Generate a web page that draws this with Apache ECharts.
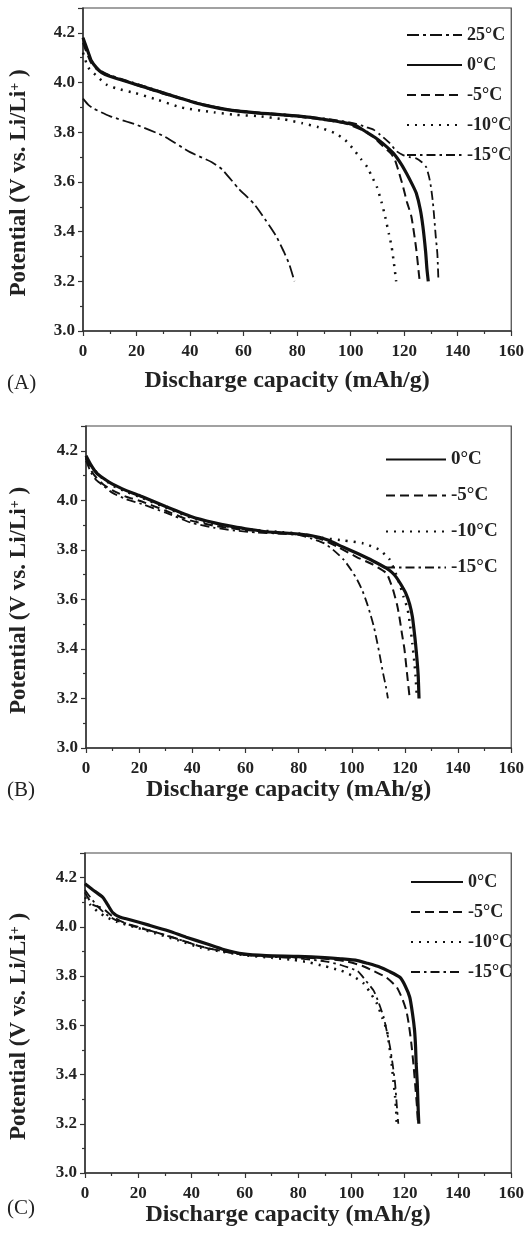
<!DOCTYPE html>
<html>
<head>
<meta charset="utf-8">
<title>Discharge curves</title>
<script src="https://cdn.jsdelivr.net/npm/echarts@6/dist/echarts.min.js"></script>
<style>
    html, body { margin: 0; padding: 0; background: #fff; }
    #main { width: 527px; height: 1244px; }
</style>
</head>
<body>
<div id="main"></div>
<script>
// 数据 (mAh/g, V)
var xTicks = [0, 20, 40, 60, 80, 100, 120, 140, 160];
var yTicks = [3.0, 3.2, 3.4, 3.6, 3.8, 4.0, 4.2];
var namesA = ['25°C', '0°C', '-5°C', '-10°C', '-15°C'];
var namesBC = ['0°C', '-5°C', '-10°C', '-15°C'];

// (A)
var a25 = [[0,3.935],[2,3.91],[4,3.895],[10,3.865],[20,3.83],[30,3.785],[40,3.72],[48,3.68],[52,3.65],[58,3.575],[64,3.51],[68,3.45],[72,3.385],[75,3.32],[77,3.27],[79,3.2]];
var a0 = [[0,4.18],[1,4.15],[2,4.12],[3,4.09],[5,4.06],[7,4.04],[10,4.025],[18,3.998],[25,3.975],[36,3.938],[45,3.91],[55,3.889],[66,3.877],[75,3.87],[85,3.86],[90,3.852],[98,3.838],[102,3.826],[106,3.80],[109,3.78],[112,3.755],[116,3.715],[119,3.67],[121,3.632],[123,3.59],[124.5,3.555],[126,3.49],[127,3.42],[128,3.32],[128.5,3.25],[129,3.2]];
var a5 = [[0,4.16],[1,4.13],[3,4.08],[5,4.055],[8,4.035],[12,4.02],[20,3.99],[30,3.955],[40,3.925],[50,3.9],[60,3.882],[70,3.872],[80,3.863],[90,3.85],[98,3.835],[104,3.81],[108,3.785],[112,3.745],[115,3.715],[116.5,3.69],[118,3.64],[119.6,3.58],[121,3.52],[122.7,3.46],[124.5,3.33],[125.7,3.21],[126,3.2]];
var a10 = [[0,4.12],[2,4.06],[5.5,4.023],[9,3.99],[14,3.972],[19.4,3.958],[28,3.93],[36.6,3.9],[48.8,3.88],[57,3.87],[65,3.865],[75,3.852],[82,3.836],[88,3.82],[94,3.797],[98,3.768],[101.3,3.728],[104,3.69],[106.2,3.66],[108,3.62],[109.8,3.58],[111.5,3.52],[112.9,3.46],[114.3,3.39],[115.3,3.34],[116.2,3.27],[117,3.2]];
var a15 = [[0,4.18],[1,4.15],[3,4.09],[5,4.06],[7,4.045],[10,4.03],[18,4.002],[25,3.978],[36,3.94],[45,3.912],[55,3.891],[66,3.879],[75,3.872],[85,3.862],[95,3.848],[102,3.834],[106,3.82],[108.6,3.81],[111,3.79],[114.7,3.755],[117,3.725],[119.6,3.708],[122,3.70],[124.5,3.695],[126.5,3.68],[128.2,3.66],[129.3,3.62],[130,3.58],[130.7,3.52],[131.2,3.46],[131.8,3.38],[132.4,3.31],[132.8,3.2]];

// (B)
var b0 = [[0,4.18],[2,4.14],[4,4.11],[6.4,4.09],[10,4.065],[15,4.04],[21,4.015],[30,3.975],[39.5,3.935],[48,3.91],[55.4,3.894],[62,3.882],[67.7,3.873],[75,3.868],[83.6,3.86],[91,3.84],[96,3.815],[102,3.786],[108,3.755],[113,3.726],[115,3.71],[116.7,3.69],[118.5,3.66],[120.3,3.625],[121.8,3.58],[122.8,3.53],[123.5,3.47],[124,3.42],[124.6,3.35],[125,3.29],[125.3,3.2]];
var b5 = [[0,4.17],[2,4.12],[4,4.09],[6.4,4.065],[10,4.04],[15,4.015],[21,3.995],[30,3.958],[39.5,3.918],[48,3.898],[56,3.885],[64,3.876],[72,3.87],[80,3.862],[88,3.845],[95,3.81],[102,3.77],[108,3.74],[113,3.706],[114.5,3.67],[115.5,3.64],[117,3.58],[117.9,3.53],[118.9,3.46],[119.8,3.40],[120.8,3.30],[121.8,3.2]];
var b10 = [[0,4.17],[2,4.14],[5,4.10],[10,4.06],[15,4.035],[21,4.01],[30,3.97],[39.5,3.93],[48,3.905],[56,3.89],[64,3.88],[72,3.873],[80,3.866],[89.7,3.847],[97,3.838],[104.4,3.826],[108,3.812],[110.6,3.80],[112.5,3.78],[114.3,3.76],[116,3.72],[117.9,3.665],[119.5,3.61],[121,3.56],[122,3.49],[122.8,3.42],[123.5,3.35],[124,3.29],[124.5,3.2]];
var b15 = [[0,4.16],[2,4.11],[4,4.08],[6.4,4.06],[10,4.03],[15,4.005],[21,3.985],[30,3.95],[39.5,3.91],[48,3.89],[56,3.878],[64,3.87],[72,3.866],[79.9,3.86],[85,3.845],[89.7,3.826],[93,3.8],[97,3.76],[100,3.715],[102,3.68],[104,3.635],[105.7,3.585],[107,3.54],[108.3,3.49],[109.5,3.43],[110.6,3.37],[111.8,3.3],[112.8,3.25],[113.6,3.2]];

// (C)
var c0 = [[0,4.175],[3,4.15],[6.7,4.12],[8.5,4.09],[10.4,4.058],[13,4.04],[16.5,4.03],[24,4.007],[31.2,3.984],[38,3.958],[45.9,3.93],[52,3.908],[59.4,3.89],[68,3.883],[80,3.88],[90,3.875],[96,3.87],[102.3,3.863],[106,3.852],[110.8,3.836],[114,3.82],[118.2,3.795],[120.2,3.76],[121.9,3.714],[122.9,3.65],[123.7,3.58],[124.1,3.51],[124.3,3.446],[124.7,3.37],[124.9,3.31],[125.1,3.25],[125.3,3.2]];
var c5 = [[0,4.14],[1,4.12],[3,4.09],[6.7,4.075],[10,4.045],[14,4.02],[19,4.0],[26,3.98],[35,3.95],[43.5,3.92],[52,3.9],[60,3.887],[70,3.88],[80,3.876],[90,3.87],[98,3.86],[104,3.842],[108.4,3.82],[113,3.795],[117,3.755],[119,3.71],[120.6,3.66],[121.6,3.6],[122.5,3.526],[123.3,3.44],[124.1,3.337],[124.6,3.27],[125,3.2]];
var c10 = [[0,4.12],[2,4.09],[5,4.06],[8,4.04],[12,4.02],[19,3.998],[26,3.975],[35,3.945],[43.5,3.915],[52,3.898],[60,3.885],[70,3.874],[78,3.866],[83.9,3.856],[90,3.84],[96.1,3.822],[100.5,3.8],[104.7,3.769],[107.5,3.725],[109.6,3.688],[111.6,3.63],[113.3,3.58],[114.3,3.51],[115.1,3.445],[115.8,3.37],[116.4,3.31],[116.8,3.25],[117,3.2]];
var c15 = [[0,4.15],[2,4.12],[5,4.08],[8,4.05],[12,4.025],[19,4.003],[26,3.98],[35,3.95],[43.5,3.92],[52,3.9],[60,3.886],[70,3.878],[80,3.872],[90,3.86],[96,3.845],[102.3,3.82],[105.5,3.78],[108.4,3.74],[110.3,3.69],[112.1,3.633],[113.4,3.57],[114.5,3.512],[115.5,3.44],[116.4,3.364],[117,3.28],[117.6,3.2]];

var font = "'Liberation Serif', 'Times New Roman', serif";
var ink = '#111';

// 线型
var styles = {
    '25°C': {width: 1.8, type: [12, 4, 3, 4]},
    '0°C': {width: 3.2, type: 'solid'},
    '-5°C': {width: 2, type: [9, 5]},
    '-10°C': {width: 2.5, type: [2, 6]},
    '-15°C': {width: 1.8, type: [9, 4, 2.5, 4]}
};

function line(name, data, idx) {
    return {
        name: name,
        type: 'line',
        xAxisIndex: idx,
        yAxisIndex: idx,
        data: data,
        symbol: 'none',
        showSymbol: false,
        smooth: 0.2,
        color: ink,
        lineStyle: {color: ink, width: styles[name].width, type: styles[name].type}
    };
}

var grids = [
    {left: 80, top: 8, width: 437, height: 323},
    {left: 83, top: 426, width: 435, height: 322},
    {left: 82, top: 853, width: 435, height: 320}
];
var xNameGap = [38, 30, 24];
var yNameGap = [52, 55, 54];

var xAxes = [], yAxes = [];
for (var i = 0; i < 3; i++) {
    grids[i].show = true;
    grids[i].borderColor = '#444';
    grids[i].borderWidth = 1.2;
    xAxes.push({
        gridIndex: i,
        type: 'value',
        min: xTicks[0],
        max: xTicks[xTicks.length - 1],
        interval: 20,
        axisLine: {onZero: false, lineStyle: {color: '#333', width: 1.5}},
        axisTick: {length: 5, lineStyle: {color: '#333', width: 1.2}},
        minorTick: {show: true, splitNumber: 2, length: 3, lineStyle: {color: '#333', width: 1.2}},
        splitLine: {show: false},
        axisLabel: {fontFamily: font, fontWeight: 'bold', fontSize: 17, color: '#222', margin: 12},
        name: 'Discharge capacity (mAh/g)',
        nameLocation: 'middle',
        nameGap: xNameGap[i],
        nameTextStyle: {fontFamily: font, fontWeight: 'bold', fontSize: 24, color: '#222', padding: [0, 20, 0, 0]}
    });
    yAxes.push({
        gridIndex: i,
        type: 'value',
        min: yTicks[0],
        max: 4.3,
        interval: 0.2,
        axisLine: {onZero: false, lineStyle: {color: '#333', width: 1.5}},
        axisTick: {length: 5, lineStyle: {color: '#333', width: 1.2}},
        minorTick: {show: true, splitNumber: 2, length: 3, lineStyle: {color: '#333', width: 1.2}},
        splitLine: {show: false},
        axisLabel: {
            fontFamily: font, fontWeight: 'bold', fontSize: 17, color: '#222', margin: 8,
            showMaxLabel: false,
            formatter: function (v) { return v.toFixed(1); }
        },
        name: '{t|Potential (V vs. Li/Li}{s|+}{t| )}',
        nameLocation: 'middle',
        nameGap: yNameGap[i],
        nameTextStyle: {
            fontFamily: font, fontWeight: 'bold', fontSize: 23, color: '#222',
            padding: [0, 27, 0, 0],
            rich: {
                t: {fontFamily: font, fontWeight: 'bold', fontSize: 23, color: '#222'},
                s: {fontFamily: font, fontWeight: 'bold', fontSize: 14, color: '#222', verticalAlign: 'top', padding: [0, 0, 9, 0]}
            }
        }
    });
}

var legendText = {fontFamily: font, fontWeight: 'bold', fontSize: 18, color: '#222'};
var noDot = {opacity: 0};

var option = {
    animation: false,
    backgroundColor: '#fff',
    title: [
        {text: '(A)', left: 2, top: 368, textStyle: {fontFamily: font, fontWeight: 'normal', fontSize: 21, color: '#222'}},
        {text: '(B)', left: 2, top: 775, textStyle: {fontFamily: font, fontWeight: 'normal', fontSize: 21, color: '#222'}},
        {text: '(C)', left: 2, top: 1193, textStyle: {fontFamily: font, fontWeight: 'normal', fontSize: 21, color: '#222'}}
    ],
    legend: [
        {orient: 'vertical', left: 401, top: 21, itemWidth: 55, itemHeight: 14, itemGap: 12, data: namesA, textStyle: legendText, itemStyle: noDot},
        {orient: 'vertical', left: 380, top: 445, itemWidth: 60, itemHeight: 14, itemGap: 17, data: namesBC, textStyle: {fontFamily: font, fontWeight: 'bold', fontSize: 19, color: '#222'}, itemStyle: noDot},
        {orient: 'vertical', left: 405, top: 868, itemWidth: 52, itemHeight: 14, itemGap: 12, data: namesBC, textStyle: legendText, itemStyle: noDot}
    ],
    grid: grids,
    xAxis: xAxes,
    yAxis: yAxes,
    series: [
        line('25°C', a25, 0),
        line('0°C', a0, 0),
        line('-5°C', a5, 0),
        line('-10°C', a10, 0),
        line('-15°C', a15, 0),
        line('0°C', b0, 1),
        line('-5°C', b5, 1),
        line('-10°C', b10, 1),
        line('-15°C', b15, 1),
        line('0°C', c0, 2),
        line('-5°C', c5, 2),
        line('-10°C', c10, 2),
        line('-15°C', c15, 2)
    ]
};

var myChart = echarts.init(document.getElementById('main'));
myChart.setOption(option);
</script>
</body>
</html>
